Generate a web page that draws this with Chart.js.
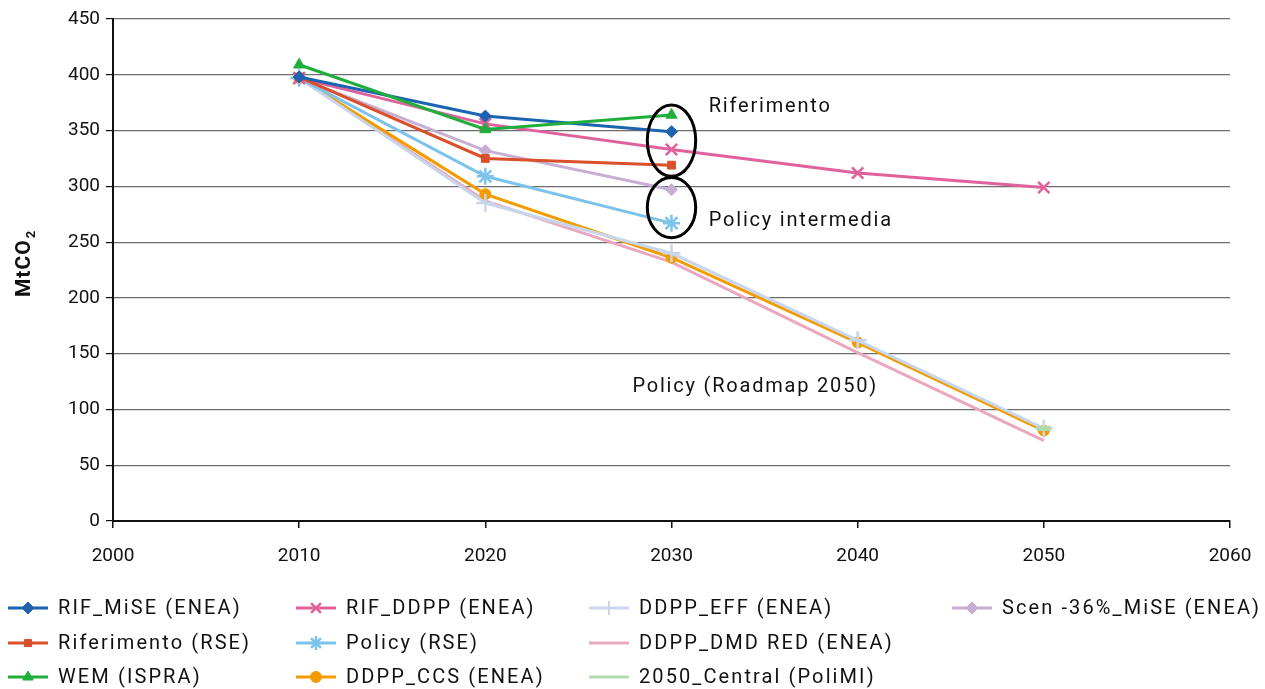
<!DOCTYPE html>
<html>
<head>
<meta charset="utf-8">
<script src="https://cdn.jsdelivr.net/npm/chart.js@4.4.1/dist/chart.umd.min.js"></script>
<style>
html,body{margin:0;padding:0;background:#fff;}
#wrap{position:relative;width:1265px;height:689px;}
</style>
</head>
<body>
<div id="wrap"><canvas id="c" width="1265" height="689"></canvas></div>
<script>
const years = [2010, 2020, 2030, 2040, 2050];
const xTicks = [2000, 2010, 2020, 2030, 2040, 2050, 2060];
const yTicks = [0, 50, 100, 150, 200, 250, 300, 350, 400, 450];

const rifMiSE     = [398, 363, 349, null, null];
const riferimento = [398, 325, 319, null, null];
const wem         = [409, 351, 364, null, null];
const rifDDPP     = [397, 356, 333, 312, 299];
const policyRSE   = [397, 309, 267, null, null];
const ddppCCS     = [397, 293, 236, 160, 81];
const ddppEFF     = [397, 285, 240, 162, 83];
const ddppDMD     = [397, 287, 232, 151, 72];
const central2050 = [null, null, null, null, 83];
const scen36      = [397, 332, 297, null, null];

const labels = ['RIF_MiSE (ENEA)','Riferimento (RSE)','WEM (ISPRA)','RIF_DDPP (ENEA)','Policy (RSE)','DDPP_CCS (ENEA)','DDPP_EFF (ENEA)','DDPP_DMD RED (ENEA)','2050_Central (PoliMI)','Scen -36%_MiSE (ENEA)'];

const FONT = 'Roboto, "DejaVu Sans", sans-serif';

function pts(arr){ return years.map((y,i)=>({x:y,y:arr[i]})).filter(p=>p.y!==null); }

function ds(label, arr, color, style, radius, bw, order){
  return {label, data: pts(arr), borderColor: color, backgroundColor: color,
    pointStyle: style, pointRadius: style ? radius : 0, pointBorderWidth: bw,
    pointBorderColor: color, pointBackgroundColor: color,
    borderWidth: 3, tension: 0, fill: false, order: order, showLine: true};
}

const datasets = [
  ds(labels[0], rifMiSE, '#1c63b0', 'rectRot', 6, 1, 3),
  ds(labels[1], riferimento, '#d9502a', 'rect', 5.5, 1, 4),
  ds(labels[2], wem, '#1fae3b', 'triangle', 6.5, 1, 2),
  ds(labels[3], rifDDPP, '#e0619b', 'crossRot', 8, 2.5, 5),
  ds(labels[4], policyRSE, '#7cc3ec', 'star', 8.5, 2.5, 6),
  ds(labels[5], ddppCCS, '#f39c00', 'circle', 5.5, 1, 8),
  ds(labels[6], ddppEFF, '#c7d6ec', 'cross', 9, 2.5, 7),
  ds(labels[7], ddppDMD, '#eaa8c0', false, 0, 1, 9),
  ds(labels[8], central2050, '#b3dbb0', 'line', 7, 5, 1),
  ds(labels[9], scen36, '#c7aed3', 'rectRot', 6, 1, 5)
];
datasets[8].showLine = false;

const legendStyles = [
  {ps:'rectRot', r:6, bw:1},{ps:'rect', r:5, bw:1},{ps:'triangle', r:6, bw:1},
  {ps:'crossRot', r:7, bw:2.5},{ps:'star', r:7, bw:2.5},{ps:'circle', r:5.5, bw:1},
  {ps:'cross', r:7, bw:2},{ps:false},{ps:false},{ps:'rectRot', r:6, bw:1}
];

const spacingPlugin = {
  id: 'spacing',
  beforeInit(chart){ chart.ctx.letterSpacing = '1.5px'; }
};

const annotPlugin = {
  id: 'annot',
  afterDatasetsDraw(chart){
    const ctx = chart.ctx, xs = chart.scales.x, ys = chart.scales.y;
    ctx.save();
    ctx.strokeStyle = '#000'; ctx.lineWidth = 3;
    const ell = [[2030, 341, 1.3, 32], [2030, 281, 1.3, 27]];
    ell.forEach(e=>{
      const cx = xs.getPixelForValue(e[0]), cy = ys.getPixelForValue(e[1]);
      const rx = xs.getPixelForValue(e[0]+e[2]) - cx;
      const ry = cy - ys.getPixelForValue(e[1]+e[3]);
      ctx.beginPath(); ctx.ellipse(cx, cy, rx, ry, 0, 0, Math.PI*2); ctx.stroke();
    });
    ctx.fillStyle = '#111'; ctx.font = '20px ' + FONT;
    ctx.letterSpacing = '1.8px';
    ctx.textBaseline = 'middle'; ctx.textAlign = 'left';
    const texts = [['Riferimento', 2032.0, 371], ['Policy intermedia', 2032.0, 269], ['Policy (Roadmap 2050)', 2027.9, 120]];
    texts.forEach(t=>{ ctx.fillText(t[0], xs.getPixelForValue(t[1]), ys.getPixelForValue(t[2])); });
    ctx.restore();
  },
  afterDraw(chart){
    const ctx = chart.ctx;
    ctx.save();
    ctx.translate(25, chart.chartArea.top + (chart.chartArea.bottom - chart.chartArea.top)/2 - 6);
    ctx.rotate(-Math.PI/2);
    ctx.fillStyle = '#111';
    ctx.letterSpacing = '1px';
    ctx.font = 'bold 21px ' + FONT;
    ctx.textBaseline = 'middle'; ctx.textAlign = 'left';
    const t1 = 'MtCO';
    const w1 = ctx.measureText(t1).width;
    ctx.font = 'bold 13px ' + FONT;
    const w2 = ctx.measureText('2').width;
    const start = -(w1 + w2)/2;
    ctx.font = 'bold 21px ' + FONT;
    ctx.fillText(t1, start, 0);
    ctx.font = 'bold 13px ' + FONT;
    ctx.fillText('2', start + w1 + 1, 7);
    ctx.restore();

    ctx.save();
    const colX = [8, 296, 589, 952];
    const rowY = [608, 643, 677];
    chart.data.datasets.forEach((d, i)=>{
      let c = Math.floor(i/3), r = i%3;
      if (i === 9) { c = 3; r = 0; }
      const x0 = colX[c], y0 = rowY[r];
      ctx.letterSpacing = '0px';
      ctx.strokeStyle = d.borderColor; ctx.lineWidth = 3;
      ctx.beginPath(); ctx.moveTo(x0, y0); ctx.lineTo(x0 + 40, y0); ctx.stroke();
      const st = legendStyles[i];
      if (st.ps) {
        ctx.fillStyle = d.borderColor; ctx.strokeStyle = d.borderColor;
        ctx.lineWidth = st.bw;
        Chart.helpers.drawPoint(ctx, {pointStyle: st.ps, radius: st.r, rotation: 0, borderWidth: st.bw}, x0 + 20, y0);
      }
      ctx.letterSpacing = '2.1px';
      ctx.fillStyle = '#111'; ctx.font = '20px ' + FONT;
      ctx.textBaseline = 'middle'; ctx.textAlign = 'left';
      ctx.fillText(d.label, x0 + 50, y0 + 1);
    });
    ctx.restore();
  }
};

new Chart(document.getElementById('c'), {
  type: 'line',
  data: { datasets },
  options: {
    responsive: false, animation: false,
    layout: { padding: { left: 0, top: 19, right: 35, bottom: 118 } },
    plugins: { legend: { display: false }, tooltip: { enabled: false } },
    scales: {
      x: {
        type: 'linear', min: 2000, max: 2060,
        afterFit(s){ s.height = 50; s.paddingRight = 0; s.paddingLeft = 0; },
        afterBuildTicks(s){ s.ticks = xTicks.map(v=>({value:v})); },
        grid: { drawOnChartArea: false, drawTicks: true, tickLength: 7, tickColor: '#111', lineWidth: 1.5 },
        border: { color: '#111', width: 2 },
        ticks: { color: '#111', font: { family: FONT, size: 19 }, padding: 17, maxRotation: 0,
          callback: v => String(v) }
      },
      y: {
        min: 0, max: 450,
        afterFit(s){ s.width = 113; },
        afterBuildTicks(s){ s.ticks = yTicks.map(v=>({value:v})); },
        grid: { color: '#6e6e6e', lineWidth: 1.2, drawTicks: true, tickLength: 7, tickColor: '#111' },
        border: { color: '#111', width: 2 },
        ticks: { color: '#111', font: { family: FONT, size: 19 }, padding: 6 }
      }
    }
  },
  plugins: [spacingPlugin, annotPlugin]
});
</script>
</body>
</html>
